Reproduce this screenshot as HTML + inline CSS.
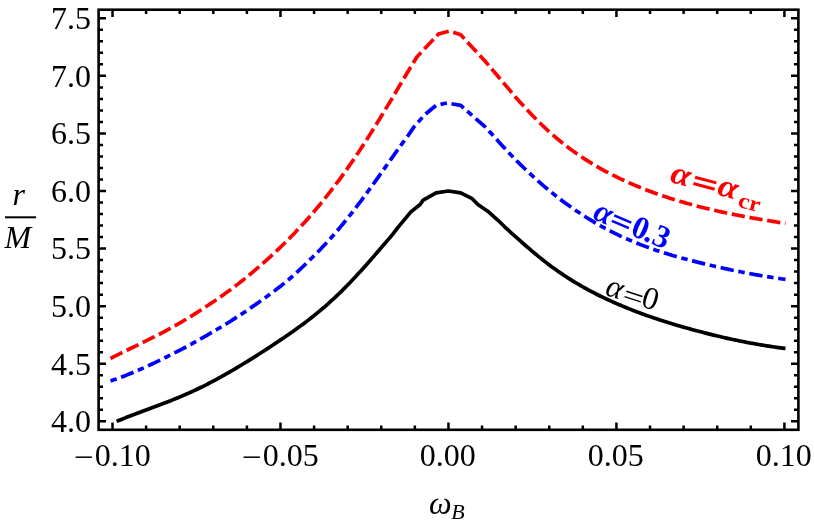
<!DOCTYPE html>
<html><head><meta charset="utf-8"><title>plot</title>
<style>
html,body{margin:0;padding:0;background:#fff;}
body{width:814px;height:525px;overflow:hidden;font-family:"Liberation Serif",serif;}
svg{display:block;transform:translateZ(0);will-change:transform;}
text{font-family:"Liberation Serif",serif;fill:#000;}
</style></head><body>
<svg width="814" height="525" viewBox="0 0 814 525">
<rect x="0" y="0" width="814" height="525" fill="#fff"/>
<g fill="none" stroke-linejoin="round">
<path d="M110.50 358.51 L112.50 357.48 L114.50 356.47 L116.50 355.45 L118.50 354.45 L120.50 353.45 L122.50 352.45 L124.50 351.46 L126.50 350.48 L128.50 349.49 L130.50 348.51 L132.50 347.53 L134.50 346.55 L136.50 345.57 L138.50 344.59 L140.50 343.61 L142.50 342.63 L144.50 341.65 L146.50 340.67 L148.50 339.68 L150.50 338.69 L152.50 337.70 L154.50 336.70 L156.50 335.69 L158.50 334.68 L160.50 333.65 L162.50 332.59 L164.50 331.51 L166.50 330.43 L168.50 329.34 L170.50 328.24 L172.50 327.13 L174.50 326.01 L176.50 324.88 L178.50 323.74 L180.50 322.58 L182.50 321.41 L184.50 320.23 L186.50 319.03 L188.50 317.82 L190.50 316.60 L192.50 315.35 L194.50 314.10 L196.50 312.82 L198.50 311.53 L200.50 310.23 L202.50 308.91 L204.50 307.57 L206.50 306.27 L208.50 304.97 L210.50 303.66 L212.50 302.33 L214.50 300.99 L216.50 299.63 L218.50 298.25 L220.50 296.86 L222.50 295.45 L224.50 294.03 L226.50 292.59 L228.50 291.13 L230.50 289.66 L232.50 288.17 L234.50 286.66 L236.50 285.14 L238.50 283.60 L240.50 282.04 L242.50 280.47 L244.50 278.88 L246.50 277.27 L248.50 275.63 L250.50 273.98 L252.50 272.31 L254.50 270.62 L256.50 268.92 L258.50 267.20 L260.50 265.46 L262.50 263.71 L264.50 261.94 L266.50 260.15 L268.50 258.35 L270.50 256.53 L272.50 254.69 L274.50 252.83 L276.50 250.96 L278.50 249.07 L280.50 247.16 L282.50 245.23 L284.50 243.28 L286.50 241.31 L288.50 239.32 L290.50 237.30 L292.50 235.24 L294.50 233.16 L296.50 231.05 L298.50 228.92 L300.50 226.77 L302.50 224.60 L304.50 222.39 L306.50 220.17 L308.50 217.92 L310.50 215.64 L312.50 213.33 L314.50 211.00 L316.50 208.64 L318.50 206.26 L320.50 203.84 L322.50 201.40 L324.50 198.93 L326.50 196.42 L328.50 193.89 L330.50 191.33 L332.50 188.73 L334.50 186.11 L336.50 183.46 L338.50 180.78 L340.50 178.07 L342.50 175.32 L344.50 172.54 L346.50 169.73 L348.50 166.88 L350.50 164.01 L352.50 161.10 L354.50 158.16 L356.50 155.20 L358.50 152.20 L360.50 149.17 L362.50 146.12 L364.50 143.04 L366.50 139.93 L368.50 136.79 L370.50 133.63 L372.50 130.44 L374.50 127.23 L376.50 123.99 L378.50 120.72 L380.50 117.45 L382.50 114.21 L384.50 110.95 L386.50 107.66 L388.50 104.35 L390.50 101.02 L392.50 97.67 L394.50 94.29 L396.50 90.90 L398.50 87.50 L400.50 84.09 L402.50 80.70 L404.50 77.33 L406.50 74.00 L408.50 70.71 L410.50 67.48 L417.00 56.80 L438.50 34.00 L449.60 31.00 L460.70 34.70 L484.50 60.50 L509.50 89.90 L516.50 98.20 L518.50 100.44 L520.50 102.65 L522.50 104.83 L524.50 106.98 L526.50 109.14 L528.50 111.29 L530.50 113.41 L532.50 115.49 L534.50 117.55 L536.50 119.57 L538.50 121.57 L540.50 123.53 L542.50 125.46 L544.50 127.36 L546.50 129.23 L548.50 131.06 L550.50 132.87 L552.50 134.64 L554.50 136.38 L556.50 138.09 L558.50 139.77 L560.50 141.41 L562.50 143.02 L564.50 144.59 L566.50 146.14 L568.50 147.66 L570.50 149.15 L572.50 150.62 L574.50 152.06 L576.50 153.47 L578.50 154.86 L580.50 156.22 L582.50 157.56 L584.50 158.87 L586.50 160.16 L588.50 161.43 L590.50 162.68 L592.50 163.90 L594.50 165.10 L596.50 166.28 L598.50 167.44 L600.50 168.58 L602.50 169.69 L604.50 170.77 L606.50 171.84 L608.50 172.89 L610.50 173.92 L612.50 174.94 L614.50 175.94 L616.50 176.92 L618.50 177.89 L620.50 178.84 L622.50 179.78 L624.50 180.71 L626.50 181.62 L628.50 182.51 L630.50 183.40 L632.50 184.27 L634.50 185.12 L636.50 185.96 L638.50 186.79 L640.50 187.61 L642.50 188.41 L644.50 189.20 L646.50 189.98 L648.50 190.74 L650.50 191.50 L652.50 192.24 L654.50 192.97 L656.50 193.69 L658.50 194.40 L660.50 195.09 L662.50 195.78 L664.50 196.45 L666.50 197.12 L668.50 197.77 L670.50 198.41 L672.50 199.05 L674.50 199.67 L676.50 200.28 L678.50 200.88 L680.50 201.48 L682.50 202.06 L684.50 202.64 L686.50 203.21 L688.50 203.77 L690.50 204.31 L692.50 204.86 L694.50 205.39 L696.50 205.91 L698.50 206.43 L700.50 206.94 L702.50 207.44 L704.50 207.94 L706.50 208.43 L708.50 208.91 L710.50 209.38 L712.50 209.85 L714.50 210.31 L716.50 210.76 L718.50 211.21 L720.50 211.65 L722.50 212.09 L724.50 212.51 L726.50 212.94 L728.50 213.36 L730.50 213.77 L732.50 214.17 L734.50 214.57 L736.50 214.97 L738.50 215.36 L740.50 215.75 L742.50 216.13 L744.50 216.50 L746.50 216.87 L748.50 217.24 L750.50 217.60 L752.50 217.96 L754.50 218.32 L756.50 218.67 L758.50 219.02 L760.50 219.36 L762.50 219.70 L764.50 220.04 L766.50 220.37 L768.50 220.70 L770.50 221.03 L772.50 221.35 L774.50 221.67 L776.50 221.99 L778.50 222.31 L780.50 222.63 L782.50 222.94 L784.50 223.25 L785.50 223.40" stroke="#ff0000" stroke-width="3.7" stroke-dasharray="13.3 4.7"/>
<path d="M110.50 380.97 L112.50 380.30 L114.50 379.61 L116.50 378.90 L118.50 378.18 L120.50 377.44 L122.50 376.69 L124.50 375.92 L126.50 375.14 L128.50 374.34 L130.50 373.53 L132.50 372.70 L134.50 371.87 L136.50 371.01 L138.50 370.15 L140.50 369.28 L142.50 368.39 L144.50 367.49 L146.50 366.58 L148.50 365.66 L150.50 364.73 L152.50 363.79 L154.50 362.84 L156.50 361.88 L158.50 360.91 L160.50 359.94 L162.50 358.95 L164.50 357.96 L166.50 356.97 L168.50 355.96 L170.50 354.95 L172.50 353.94 L174.50 352.91 L176.50 351.89 L178.50 350.86 L180.50 349.82 L182.50 348.78 L184.50 347.74 L186.50 346.69 L188.50 345.64 L190.50 344.58 L192.50 343.46 L194.50 342.33 L196.50 341.21 L198.50 340.08 L200.50 338.95 L202.50 337.81 L204.50 336.67 L206.50 335.53 L208.50 334.38 L210.50 333.22 L212.50 332.06 L214.50 330.89 L216.50 329.72 L218.50 328.53 L220.50 327.34 L222.50 326.14 L224.50 324.94 L226.50 323.70 L228.50 322.46 L230.50 321.20 L232.50 319.94 L234.50 318.66 L236.50 317.37 L238.50 316.07 L240.50 314.76 L242.50 313.44 L244.50 312.11 L246.50 310.76 L248.50 309.40 L250.50 308.02 L252.50 306.64 L254.50 305.23 L256.50 303.86 L258.50 302.48 L260.50 301.09 L262.50 299.68 L264.50 298.25 L266.50 296.81 L268.50 295.35 L270.50 293.87 L272.50 292.38 L274.50 290.86 L276.50 289.33 L278.50 287.78 L280.50 286.21 L282.50 284.61 L284.50 283.00 L286.50 281.36 L288.50 279.71 L290.50 278.01 L292.50 276.24 L294.50 274.44 L296.50 272.62 L298.50 270.77 L300.50 268.90 L302.50 267.00 L304.50 265.08 L306.50 263.13 L308.50 261.15 L310.50 259.17 L312.50 257.23 L314.50 255.27 L316.50 253.27 L318.50 251.24 L320.50 249.18 L322.50 247.09 L324.50 244.97 L326.50 242.82 L328.50 240.63 L330.50 238.41 L332.50 236.16 L334.50 233.87 L336.50 231.57 L338.50 229.24 L340.50 226.88 L342.50 224.48 L344.50 222.05 L346.50 219.58 L348.50 217.08 L350.50 214.55 L352.50 212.00 L354.50 209.41 L356.50 206.80 L358.50 204.17 L360.50 201.52 L362.50 198.84 L364.50 196.15 L366.50 193.44 L368.50 190.71 L370.50 187.96 L372.50 185.19 L374.50 182.40 L376.50 179.60 L378.50 176.80 L380.50 173.99 L382.50 171.17 L384.50 168.35 L386.50 165.53 L388.50 162.71 L390.50 159.89 L392.50 157.07 L394.50 154.25 L396.50 151.44 L398.50 148.64 L400.50 145.86 L402.50 143.11 L404.50 140.38 L406.50 137.70 L408.50 135.05 L414.00 126.90 L424.50 114.90 L436.10 105.40 L447.10 102.90 L460.70 105.40 L485.20 126.90 L490.50 132.62 L492.50 134.85 L494.50 137.08 L496.50 139.32 L498.50 141.54 L500.50 143.75 L502.50 145.94 L504.50 148.10 L506.50 150.24 L508.50 152.36 L510.50 154.45 L512.50 156.52 L514.50 158.57 L516.50 160.59 L518.50 162.59 L520.50 164.57 L522.50 166.53 L524.50 168.46 L526.50 170.37 L528.50 172.26 L530.50 174.12 L532.50 175.96 L534.50 177.78 L536.50 179.58 L538.50 181.36 L540.50 183.11 L542.50 184.84 L544.50 186.55 L546.50 188.23 L548.50 189.90 L550.50 191.54 L552.50 193.16 L554.50 194.76 L556.50 196.34 L558.50 197.89 L560.50 199.42 L562.50 200.94 L564.50 202.43 L566.50 203.90 L568.50 205.35 L570.50 206.78 L572.50 208.18 L574.50 209.57 L576.50 210.94 L578.50 212.28 L580.50 213.61 L582.50 214.92 L584.50 216.20 L586.50 217.47 L588.50 218.72 L590.50 219.94 L592.50 221.15 L594.50 222.34 L596.50 223.51 L598.50 224.66 L600.50 225.79 L602.50 226.90 L604.50 227.99 L606.50 229.06 L608.50 230.12 L610.50 231.15 L612.50 232.17 L614.50 233.17 L616.50 234.15 L618.50 235.12 L620.50 236.06 L622.50 236.99 L624.50 237.90 L626.50 238.80 L628.50 239.67 L630.50 240.53 L632.50 241.38 L634.50 242.21 L636.50 243.02 L638.50 243.82 L640.50 244.60 L642.50 245.37 L644.50 246.13 L646.50 246.87 L648.50 247.60 L650.50 248.31 L652.50 249.01 L654.50 249.70 L656.50 250.38 L658.50 251.05 L660.50 251.70 L662.50 252.34 L664.50 252.98 L666.50 253.60 L668.50 254.21 L670.50 254.81 L672.50 255.40 L674.50 255.99 L676.50 256.56 L678.50 257.13 L680.50 257.69 L682.50 258.24 L684.50 258.78 L686.50 259.32 L688.50 259.85 L690.50 260.37 L692.50 260.89 L694.50 261.40 L696.50 261.90 L698.50 262.40 L700.50 262.90 L702.50 263.39 L704.50 263.87 L706.50 264.36 L708.50 264.83 L710.50 265.31 L712.50 265.77 L714.50 266.24 L716.50 266.69 L718.50 267.15 L720.50 267.60 L722.50 268.04 L724.50 268.48 L726.50 268.91 L728.50 269.34 L730.50 269.77 L732.50 270.19 L734.50 270.60 L736.50 271.01 L738.50 271.41 L740.50 271.81 L742.50 272.21 L744.50 272.60 L746.50 272.98 L748.50 273.36 L750.50 273.73 L752.50 274.10 L754.50 274.47 L756.50 274.83 L758.50 275.18 L760.50 275.53 L762.50 275.87 L764.50 276.21 L766.50 276.54 L768.50 276.86 L770.50 277.18 L772.50 277.50 L774.50 277.81 L776.50 278.11 L778.50 278.41 L780.50 278.71 L782.50 279.00 L784.50 279.28 L785.50 279.42" stroke="#0000ff" stroke-width="3.7" stroke-dasharray="6.5 4.7 13.4 4.7"/>
<path d="M116.62 421.36 L118.62 420.54 L120.62 419.72 L122.62 418.92 L124.62 418.13 L126.62 417.34 L128.62 416.56 L130.62 415.79 L132.62 415.03 L134.62 414.27 L136.62 413.51 L138.62 412.76 L140.62 412.01 L142.62 411.27 L144.62 410.52 L146.62 409.78 L148.62 409.04 L150.62 408.29 L152.62 407.55 L154.62 406.80 L156.62 406.06 L158.62 405.30 L160.62 404.55 L162.62 403.79 L164.62 403.02 L166.62 402.25 L168.62 401.47 L170.62 400.69 L172.62 399.89 L174.62 399.09 L176.62 398.28 L178.62 397.46 L180.62 396.62 L182.62 395.77 L184.62 394.92 L186.62 394.04 L188.62 393.16 L190.62 392.26 L192.62 391.34 L194.62 390.41 L196.62 389.46 L198.62 388.50 L200.62 387.53 L202.62 386.54 L204.62 385.54 L206.62 384.53 L208.62 383.50 L210.62 382.46 L212.62 381.40 L214.62 380.34 L216.62 379.26 L218.62 378.17 L220.62 377.07 L222.62 375.95 L224.62 374.83 L226.62 373.70 L228.62 372.55 L230.62 371.40 L232.62 370.23 L234.62 369.06 L236.62 367.87 L238.62 366.68 L240.62 365.47 L242.62 364.26 L244.62 363.04 L246.62 361.81 L248.62 360.58 L250.62 359.33 L252.62 358.08 L254.62 356.82 L256.62 355.56 L258.62 354.29 L260.62 353.01 L262.62 351.72 L264.62 350.43 L266.62 349.14 L268.62 347.84 L270.62 346.53 L272.62 345.22 L274.62 343.90 L276.62 342.57 L278.62 341.24 L280.62 339.90 L282.62 338.55 L284.62 337.19 L286.62 335.82 L288.62 334.44 L290.62 333.05 L292.62 331.64 L294.62 330.23 L296.62 328.79 L298.62 327.34 L300.62 325.88 L302.62 324.40 L304.62 322.90 L306.62 321.38 L308.62 319.85 L310.62 318.29 L312.62 316.71 L314.62 315.12 L316.62 313.50 L318.62 311.86 L320.62 310.19 L322.62 308.50 L324.62 306.79 L326.62 305.05 L328.62 303.28 L330.62 301.49 L332.62 299.67 L334.62 297.81 L336.62 295.93 L338.62 294.02 L340.62 292.08 L342.62 290.11 L344.62 288.11 L346.62 286.07 L348.62 284.02 L350.62 281.93 L352.62 279.82 L354.62 277.69 L356.62 275.53 L358.62 273.36 L360.62 271.16 L362.62 268.95 L364.62 266.71 L366.62 264.47 L368.62 262.21 L370.62 259.93 L372.62 257.64 L374.62 255.35 L376.62 253.04 L378.62 250.73 L380.62 248.40 L382.62 246.08 L384.62 243.75 L386.62 241.41 L388.62 239.08 L390.62 236.74 L392.62 234.41 L398.00 227.40 L410.90 211.90 L420.10 204.50 L423.20 200.20 L436.10 192.80 L448.40 191.00 L460.70 192.80 L471.70 198.30 L477.90 204.50 L487.70 211.20 L498.00 220.30 L504.62 226.79 L506.62 228.62 L508.62 230.44 L510.62 232.26 L512.62 234.08 L514.62 235.88 L516.62 237.67 L518.62 239.46 L520.62 241.24 L522.62 243.00 L524.62 244.75 L526.62 246.49 L528.62 248.21 L530.62 249.91 L532.62 251.60 L534.62 253.28 L536.62 254.93 L538.62 256.57 L540.62 258.18 L542.62 259.77 L544.62 261.35 L546.62 262.90 L548.62 264.42 L550.62 265.92 L552.62 267.39 L554.62 268.84 L556.62 270.27 L558.62 271.67 L560.62 273.05 L562.62 274.40 L564.62 275.73 L566.62 277.04 L568.62 278.32 L570.62 279.59 L572.62 280.83 L574.62 282.05 L576.62 283.25 L578.62 284.44 L580.62 285.60 L582.62 286.74 L584.62 287.86 L586.62 288.97 L588.62 290.05 L590.62 291.12 L592.62 292.17 L594.62 293.21 L596.62 294.23 L598.62 295.23 L600.62 296.22 L602.62 297.19 L604.62 298.14 L606.62 299.08 L608.62 300.01 L610.62 300.93 L612.62 301.83 L614.62 302.72 L616.62 303.59 L618.62 304.45 L620.62 305.31 L622.62 306.15 L624.62 306.98 L626.62 307.80 L628.62 308.60 L630.62 309.40 L632.62 310.19 L634.62 310.96 L636.62 311.73 L638.62 312.48 L640.62 313.23 L642.62 313.97 L644.62 314.69 L646.62 315.41 L648.62 316.12 L650.62 316.82 L652.62 317.51 L654.62 318.19 L656.62 318.86 L658.62 319.53 L660.62 320.18 L662.62 320.83 L664.62 321.47 L666.62 322.11 L668.62 322.73 L670.62 323.35 L672.62 323.96 L674.62 324.56 L676.62 325.15 L678.62 325.74 L680.62 326.33 L682.62 326.90 L684.62 327.47 L686.62 328.03 L688.62 328.59 L690.62 329.14 L692.62 329.69 L694.62 330.22 L696.62 330.76 L698.62 331.29 L700.62 331.81 L702.62 332.33 L704.62 332.84 L706.62 333.35 L708.62 333.85 L710.62 334.35 L712.62 334.84 L714.62 335.33 L716.62 335.81 L718.62 336.29 L720.62 336.76 L722.62 337.22 L724.62 337.68 L726.62 338.13 L728.62 338.58 L730.62 339.02 L732.62 339.45 L734.62 339.88 L736.62 340.30 L738.62 340.72 L740.62 341.13 L742.62 341.53 L744.62 341.92 L746.62 342.31 L748.62 342.70 L750.62 343.07 L752.62 343.44 L754.62 343.80 L756.62 344.16 L758.62 344.51 L760.62 344.85 L762.62 345.18 L764.62 345.51 L766.62 345.83 L768.62 346.14 L770.62 346.45 L772.62 346.74 L774.62 347.03 L776.62 347.32 L778.62 347.59 L780.62 347.86 L782.62 348.12 L784.62 348.37 L785.50 348.47" stroke="#000" stroke-width="3.7"/>
</g>
<path d="M112.50 429.80 v-7.40 M112.50 9.70 v7.40 M146.10 429.80 v-4.40 M146.10 9.70 v4.40 M179.69 429.80 v-4.40 M179.69 9.70 v4.40 M213.28 429.80 v-4.40 M213.28 9.70 v4.40 M246.88 429.80 v-4.40 M246.88 9.70 v4.40 M280.47 429.80 v-7.40 M280.47 9.70 v7.40 M314.07 429.80 v-4.40 M314.07 9.70 v4.40 M347.66 429.80 v-4.40 M347.66 9.70 v4.40 M381.26 429.80 v-4.40 M381.26 9.70 v4.40 M414.86 429.80 v-4.40 M414.86 9.70 v4.40 M448.45 429.80 v-7.40 M448.45 9.70 v7.40 M482.04 429.80 v-4.40 M482.04 9.70 v4.40 M515.64 429.80 v-4.40 M515.64 9.70 v4.40 M549.24 429.80 v-4.40 M549.24 9.70 v4.40 M582.83 429.80 v-4.40 M582.83 9.70 v4.40 M616.42 429.80 v-7.40 M616.42 9.70 v7.40 M650.02 429.80 v-4.40 M650.02 9.70 v4.40 M683.62 429.80 v-4.40 M683.62 9.70 v4.40 M717.21 429.80 v-4.40 M717.21 9.70 v4.40 M750.80 429.80 v-4.40 M750.80 9.70 v4.40 M784.40 429.80 v-7.40 M784.40 9.70 v7.40 M98.60 421.29 h7.40 M798.40 421.29 h-7.40 M98.60 409.78 h4.40 M798.40 409.78 h-4.40 M98.60 398.26 h4.40 M798.40 398.26 h-4.40 M98.60 386.75 h4.40 M798.40 386.75 h-4.40 M98.60 375.23 h4.40 M798.40 375.23 h-4.40 M98.60 363.72 h7.40 M798.40 363.72 h-7.40 M98.60 352.21 h4.40 M798.40 352.21 h-4.40 M98.60 340.69 h4.40 M798.40 340.69 h-4.40 M98.60 329.18 h4.40 M798.40 329.18 h-4.40 M98.60 317.66 h4.40 M798.40 317.66 h-4.40 M98.60 306.15 h7.40 M798.40 306.15 h-7.40 M98.60 294.64 h4.40 M798.40 294.64 h-4.40 M98.60 283.12 h4.40 M798.40 283.12 h-4.40 M98.60 271.61 h4.40 M798.40 271.61 h-4.40 M98.60 260.09 h4.40 M798.40 260.09 h-4.40 M98.60 248.58 h7.40 M798.40 248.58 h-7.40 M98.60 237.07 h4.40 M798.40 237.07 h-4.40 M98.60 225.55 h4.40 M798.40 225.55 h-4.40 M98.60 214.04 h4.40 M798.40 214.04 h-4.40 M98.60 202.52 h4.40 M798.40 202.52 h-4.40 M98.60 191.01 h7.40 M798.40 191.01 h-7.40 M98.60 179.50 h4.40 M798.40 179.50 h-4.40 M98.60 167.98 h4.40 M798.40 167.98 h-4.40 M98.60 156.47 h4.40 M798.40 156.47 h-4.40 M98.60 144.95 h4.40 M798.40 144.95 h-4.40 M98.60 133.44 h7.40 M798.40 133.44 h-7.40 M98.60 121.93 h4.40 M798.40 121.93 h-4.40 M98.60 110.41 h4.40 M798.40 110.41 h-4.40 M98.60 98.90 h4.40 M798.40 98.90 h-4.40 M98.60 87.38 h4.40 M798.40 87.38 h-4.40 M98.60 75.87 h7.40 M798.40 75.87 h-7.40 M98.60 64.36 h4.40 M798.40 64.36 h-4.40 M98.60 52.84 h4.40 M798.40 52.84 h-4.40 M98.60 41.33 h4.40 M798.40 41.33 h-4.40 M98.60 29.81 h4.40 M798.40 29.81 h-4.40 M98.60 18.30 h7.40 M798.40 18.30 h-7.40" stroke="#000" stroke-width="2.5" fill="none"/>
<rect x="98.6" y="9.7" width="699.80" height="420.10" fill="none" stroke="#000" stroke-width="2.6"/>
<g font-size="32px">
<text x="91.0" y="432.09" text-anchor="end">4.0</text>
<text x="91.0" y="374.52" text-anchor="end">4.5</text>
<text x="91.0" y="316.95" text-anchor="end">5.0</text>
<text x="91.0" y="259.38" text-anchor="end">5.5</text>
<text x="91.0" y="201.81" text-anchor="end">6.0</text>
<text x="91.0" y="144.24" text-anchor="end">6.5</text>
<text x="91.0" y="86.67" text-anchor="end">7.0</text>
<text x="91.0" y="29.10" text-anchor="end">7.5</text>
<text x="122.80" y="466.3" text-anchor="middle">0.10</text>
<rect x="75.60" y="456.45" width="16.3" height="1.5" fill="#000"/>
<text x="290.77" y="466.3" text-anchor="middle">0.05</text>
<rect x="243.57" y="456.45" width="16.3" height="1.5" fill="#000"/>
<text x="447.75" y="466.3" text-anchor="middle">0.00</text>
<text x="615.72" y="466.3" text-anchor="middle">0.05</text>
<text x="783.70" y="466.3" text-anchor="middle">0.10</text>
</g>
<!-- y axis label r/M -->
<g font-style="italic" font-size="32px">
<text x="18.7" y="205.3" text-anchor="middle">r</text>
<text x="17.8" y="248.1" text-anchor="middle">M</text>
</g>
<rect x="5" y="216.3" width="31.1" height="2" fill="#000"/>
<!-- x axis label -->
<text x="429" y="514.1" font-style="italic" font-size="32px">&#969;</text>
<text x="451.2" y="518.6" font-style="italic" font-size="22px">B</text>
<!-- curve labels -->
<g transform="translate(604.00,294.50) rotate(18.00)" style="fill:#000000" fill="#000000">
<text id="g_k_a" transform="translate(0.00,0.00) scale(1,1)" font-size="32px" font-style="italic" style="fill:#000000">&#945;</text>
<g id="g_k_eq"><rect x="20.20" y="-10.65" width="17.00" height="1.50"/><rect x="20.20" y="-5.05" width="17.00" height="1.50"/></g>
<text id="g_k_0" transform="translate(37.60,0.00) scale(1,1)" font-size="32px" font-style="normal" style="fill:#000000">0</text>
</g>
<g transform="translate(591.80,218.50) rotate(23.00)" style="fill:#0000ff" fill="#0000ff">
<text id="g_b_a" transform="translate(0.00,0.00) scale(1,1)" font-size="32px" font-style="italic" font-weight="bold" style="fill:#0000ff">&#945;</text>
<g id="g_b_eq"><rect x="19.40" y="-12.90" width="18.50" height="2.60"/><rect x="19.40" y="-6.90" width="18.50" height="2.60"/></g>
<text id="g_b_0" transform="translate(40.70,0.00) scale(1,1)" font-size="32px" font-style="normal" font-weight="bold" style="fill:#0000ff">0</text>
<text id="g_b_d" transform="translate(55.00,0.00) scale(1,1)" font-size="32px" font-style="normal" font-weight="bold" style="fill:#0000ff">.</text>
<text id="g_b_3" transform="translate(63.50,0.00) scale(1,1)" font-size="32px" font-style="normal" font-weight="bold" style="fill:#0000ff">3</text>
</g>
<g transform="translate(669.00,181.80) rotate(15.00)" style="fill:#ff0000" fill="#ff0000">
<text id="g_r_a1" transform="translate(0.00,0.00) scale(1.12,1)" font-size="32px" font-style="italic" font-weight="bold" style="fill:#ff0000">&#945;</text>
<g id="g_r_eq"><rect x="24.00" y="-12.70" width="22.00" height="3.00"/><rect x="24.00" y="-6.10" width="22.00" height="3.00"/></g>
<text id="g_r_a2" transform="translate(48.80,0.00) scale(1.12,1)" font-size="32px" font-style="italic" font-weight="bold" style="fill:#ff0000">&#945;</text>
<text id="g_r_cr" transform="translate(72.00,6.20) scale(1.14,1)" font-size="22px" font-style="normal" font-weight="bold" style="fill:#ff0000">cr</text>
</g>

</svg>
</body></html>
